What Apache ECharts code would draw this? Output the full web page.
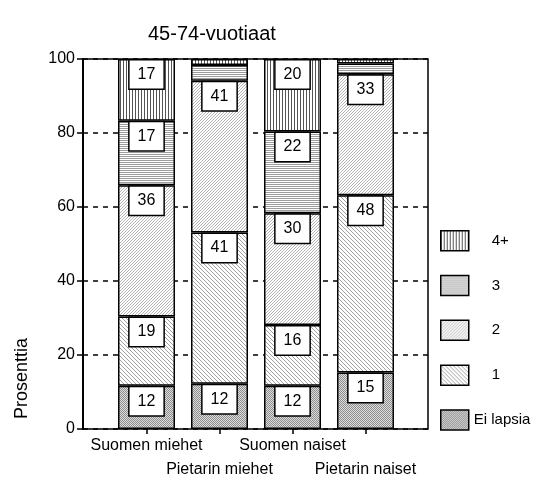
<!DOCTYPE html>
<html>
<head>
<meta charset="utf-8">
<style>html,body{margin:0;padding:0;background:#fff}#c{width:537px;height:479px}</style>
<script src="https://cdn.jsdelivr.net/npm/echarts@6/dist/echarts.min.js"></script>
</head>
<body>
<div id="c"></div>
<script>
var categories = ['Suomen miehet', 'Pietarin miehet', 'Suomen naiset', 'Pietarin naiset'];
var eiLapsia = [11.7, 12.2, 11.7, 15.3];
var yksi = [18.7, 40.9, 16.4, 47.9];
var kaksi = [35.5, 41.0, 30.2, 32.7];
var kolme = [17.4, 4.3, 22.1, 2.9];
var neljaPlus = [16.7, 1.6, 19.6, 1.2];
var seriesNames = ['Ei lapsia', '1', '2', '3', '4+'];
var yTicks = [0, 20, 40, 60, 80, 100];

function pattern(w, h, bg, fg, pts) {
  var c = document.createElement('canvas');
  c.width = w; c.height = h;
  var g = c.getContext('2d');
  g.fillStyle = bg; g.fillRect(0, 0, w, h);
  g.fillStyle = fg;
  pts.forEach(function (p) { g.fillRect(p[0], p[1], 1, 1); });
  return { image: c, repeat: 'repeat' };
}
var fills = [
  pattern(2, 2, '#dcdcdc', '#8e8e8e', [[0, 0], [1, 1]]),
  pattern(4, 4, '#ffffff', '#a0a0a0', [[0, 0], [1, 1], [2, 2], [3, 3]]),
  pattern(3, 3, '#ffffff', '#b4b4b4', [[2, 0], [1, 1], [0, 2]]),
  pattern(1, 2, '#ffffff', '#9c9c9c', [[0, 0]]),
  pattern(3, 1, '#ffffff', '#555555', [[0, 0]])
];
var dataSets = [eiLapsia, yksi, kaksi, kolme, neljaPlus];

var chart = echarts.init(document.getElementById('c'), null, { renderer: 'canvas' });
var series = dataSets.map(function (d, i) {
  return {
    name: seriesNames[i],
    type: 'bar',
    stack: 'all',
    xAxisIndex: 1,
    yAxisIndex: 1,
    barWidth: 57,
    data: d.map(function (v) { return { value: v, label: { show: v >= 10 } }; }),
    itemStyle: { color: fills[i], borderColor: '#000', borderWidth: 1.5 },
    label: {
      show: true,
      position: 'insideTop',
      distance: 1.5,
      formatter: function (p) { return String(Math.round(p.value)); },
      fontFamily: 'Liberation Sans, Arial, sans-serif',
      fontSize: 16,
      lineHeight: 18,
      color: '#000',
      backgroundColor: '#fff',
      borderColor: '#000',
      borderWidth: 1.5,
      padding: [5, 8]
    },
    emphasis: { disabled: true }
  };
});

chart.setOption({
  animation: false,
  textStyle: { fontFamily: 'Liberation Sans, Arial, sans-serif' },
  title: {
    text: '45-74-vuotiaat',
    left: 143, top: 19,
    textStyle: { fontSize: 20, fontWeight: 'normal', color: '#000', fontFamily: 'Liberation Sans, Arial, sans-serif' }
  },
  graphic: [{
    type: 'text',
    left: 13, top: 338,
    rotation: Math.PI / 2,
    style: { text: 'Prosenttia', fontSize: 18, fill: '#000', fontFamily: 'Liberation Sans, Arial, sans-serif' }
  }],
  legend: {
    orient: 'vertical',
    left: 440, top: 230, padding: 0,
    itemWidth: 28, itemHeight: 20, itemGap: 23.3,
    icon: 'rect',
    data: ['4+', '3', '2', '1', 'Ei lapsia'],
    selectedMode: false,
    itemStyle: { borderColor: '#000', borderWidth: 1.5 },
    formatter: function (n) { return n === 'Ei lapsia' ? n : '{p|' + n + '}'; },
    textStyle: {
      fontSize: 15, color: '#000', fontFamily: 'Liberation Sans, Arial, sans-serif',
      rich: { p: { fontSize: 15, padding: [0, 0, 0, 18] } }
    }
  },
  grid: [
    { left: 83, right: 109, top: 59, bottom: 50, outerBoundsMode: 'none', containLabel: false, show: true, borderColor: '#000', borderWidth: 1.5, backgroundColor: 'transparent' },
    { left: 110, right: 135, top: 59, bottom: 50, outerBoundsMode: 'none', containLabel: false }
  ],
  xAxis: [
    { gridIndex: 0, type: 'value', min: 0, max: 1, show: false },
    {
      gridIndex: 1, type: 'category', data: categories,
      axisLine: { show: false },
      axisTick: { show: true, alignWithLabel: true, length: 5, lineStyle: { color: '#000', width: 1.5 } },
      axisLabel: {
        interval: 0, margin: 5, color: '#000', fontSize: 16, lineHeight: 24,
        fontFamily: 'Liberation Sans, Arial, sans-serif',
        formatter: function (v, i) { return i % 2 ? '\n' + v : v; }
      }
    }
  ],
  yAxis: [
    {
      gridIndex: 0, type: 'value', min: 0, max: 100, interval: 20,
      axisLine: { show: true, lineStyle: { color: '#000', width: 2 } },
      axisTick: { show: true, length: 6, lineStyle: { color: '#000', width: 1.5 } },
      axisLabel: {
        margin: 8, color: '#000', fontSize: 16, fontFamily: 'Liberation Sans, Arial, sans-serif',
        formatter: function (v) { return yTicks.indexOf(v) >= 0 ? String(v) : ''; }
      },
      splitLine: { show: true, lineStyle: { color: '#000', width: 1.5, type: [5, 5] } }
    },
    { gridIndex: 1, type: 'value', min: 0, max: 100, show: false }
  ],
  series: series
});
</script>
</body>
</html>
